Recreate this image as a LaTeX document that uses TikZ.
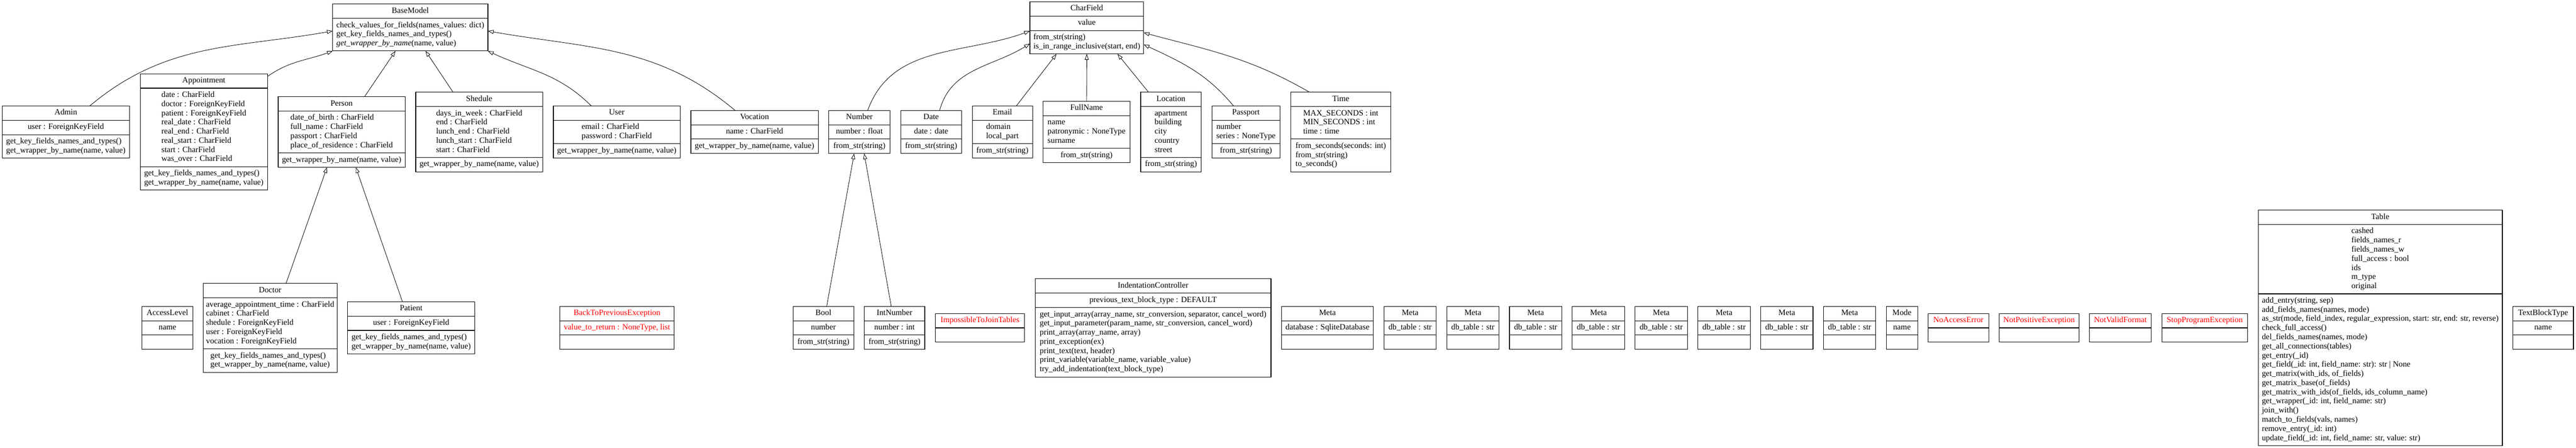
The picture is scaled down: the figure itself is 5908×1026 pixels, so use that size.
\documentclass[tikz,border=0pt]{standalone}
\usepackage{fontspec}
\setmainfont{Liberation Serif}
\usetikzlibrary{shapes.multipart,positioning,arrows.meta}
\newcommand\umlfont{\fontsize{18.67}{21}\selectfont}
\tikzset{
  cls/.style={rectangle split, rectangle split parts=3, draw, line width=1.3pt,
    align=left, inner xsep=4pt, inner ysep=5.3pt, outer sep=0pt, font=\umlfont},
  cls2/.style={cls, rectangle split parts=2},
  exc/.style={cls2, text=red},
  inh/.style={-{Triangle[open,length=13pt,width=9pt]}, line width=1pt}
}

\begin{document}
\begin{tikzpicture}[x=1pt, y=1pt, node distance=24pt]
  \useasboundingbox (0,0) rectangle (5908,-1026);

  % base classes
  \node[cls2, anchor=west, minimum width=356pt] (basemodel) at (763,-63) {\strut BaseModel\strut
    \nodepart{two}\strut check\_values\_for\_fields(names\_values: dict)\\
    get\_key\_fields\_names\_and\_types()\\
    \textit{get\_wrapper\_by\_name}(name, value)\strut};
  \node[cls, anchor=west, minimum width=261pt] (charfield) at (2362,-64) {\strut CharField\strut
    \nodepart{two}\strut value\strut
    \nodepart{three}\strut from\_str(string)\\
    is\_in\_range\_inclusive(start, end)\strut};

  % upper row
  \begin{scope}[node distance=24.5pt]
  \node[cls, anchor=west, minimum width=292pt] (admin) at (5,-302.5) {\strut Admin\strut
    \nodepart{two}\strut user : ForeignKeyField\strut
    \nodepart{three}\strut get\_key\_fields\_names\_and\_types()\\
    get\_wrapper\_by\_name(name, value)\strut};
  \node[cls, minimum width=292pt, right=of admin] (appointment) {\strut Appointment\strut
    \nodepart{two}\strut date : CharField\\
    doctor : ForeignKeyField\\
    patient : ForeignKeyField\\
    real\_date : CharField\\
    real\_end : CharField\\
    real\_start : CharField\\
    start : CharField\\
    was\_over : CharField\strut
    \nodepart{three}\strut get\_key\_fields\_names\_and\_types()\\
    get\_wrapper\_by\_name(name, value)\strut};
  \node[cls, minimum width=291pt, right=of appointment] (person) {\strut Person\strut
    \nodepart{two}\strut date\_of\_birth : CharField\\
    full\_name : CharField\\
    passport : CharField\\
    place\_of\_residence : CharField\strut
    \nodepart{three}\strut get\_wrapper\_by\_name(name, value)\strut};
  \node[cls, minimum width=291pt, right=of person] (shedule) {\strut Shedule\strut
    \nodepart{two}\strut days\_in\_week : CharField\\
    end : CharField\\
    lunch\_end : CharField\\
    lunch\_start : CharField\\
    start : CharField\strut
    \nodepart{three}\strut get\_wrapper\_by\_name(name, value)\strut};
  \node[cls, minimum width=291pt, right=of shedule] (user) {\strut User\strut
    \nodepart{two}\strut email : CharField\\
    password : CharField\strut
    \nodepart{three}\strut get\_wrapper\_by\_name(name, value)\strut};
  \node[cls, minimum width=292pt, right=of user] (vocation) {\strut Vocation\strut
    \nodepart{two}\strut name : CharField\strut
    \nodepart{three}\strut get\_wrapper\_by\_name(name, value)\strut};
  \node[cls, minimum width=140pt, right=of vocation] (number) {\strut Number\strut
    \nodepart{two}\strut number : float\strut
    \nodepart{three}\strut from\_str(string)\strut};
  \node[cls, minimum width=140pt, right=of number] (date) {\strut Date\strut
    \nodepart{two}\strut date : date\strut
    \nodepart{three}\strut from\_str(string)\strut};
  \node[cls, minimum width=138pt, right=of date] (email) {\strut Email\strut
    \nodepart{two}\strut domain\\
    local\_part\strut
    \nodepart{three}\strut from\_str(string)\strut};
  \node[cls, minimum width=199pt, right=of email] (fullname) {\strut FullName\strut
    \nodepart{two}\strut name\\
    patronymic : NoneType\\
    surname\strut
    \nodepart{three}\strut from\_str(string)\strut};
  \node[cls, minimum width=139pt, right=of fullname] (location) {\strut Location\strut
    \nodepart{two}\strut apartment\\
    building\\
    city\\
    country\\
    street\strut
    \nodepart{three}\strut from\_str(string)\strut};
  \node[cls, minimum width=156pt, right=of location] (passport) {\strut Passport\strut
    \nodepart{two}\strut number\\
    series : NoneType\strut
    \nodepart{three}\strut from\_str(string)\strut};
  \node[cls, minimum width=230pt, right=of passport] (time) {\strut Time\strut
    \nodepart{two}\strut MAX\_SECONDS : int\\
    MIN\_SECONDS : int\\
    time : time\strut
    \nodepart{three}\strut from\_seconds(seconds: int)\\
    from\_str(string)\\
    to\_seconds()\strut};
  \end{scope}

  % lower row
  \node[cls, anchor=west, minimum width=116pt] (accesslevel) at (326,-751.5) {\strut AccessLevel\strut
    \nodepart{two}\strut name\strut
    \nodepart{three}\strut};
  \node[cls, minimum width=307pt, right=of accesslevel] (doctor) {\strut Doctor\strut
    \nodepart{two}\strut average\_appointment\_time : CharField\\
    cabinet : CharField\\
    shedule : ForeignKeyField\\
    user : ForeignKeyField\\
    vocation : ForeignKeyField\strut
    \nodepart{three}\strut get\_key\_fields\_names\_and\_types()\\
    get\_wrapper\_by\_name(name, value)\strut};
  \node[cls, minimum width=292pt, right=of doctor] (patient) {\strut Patient\strut
    \nodepart{two}\strut user : ForeignKeyField\strut
    \nodepart{three}\strut get\_key\_fields\_names\_and\_types()\\
    get\_wrapper\_by\_name(name, value)\strut};
  \node[cls, text=red, anchor=west, minimum width=262pt] (backtoprevious) at (1284,-751.5) {\strut BackToPreviousException\strut
    \nodepart{two}\strut value\_to\_return : NoneType, list\strut
    \nodepart{three}\strut};
  \node[cls, anchor=west, minimum width=139pt] (bool) at (1819,-751.5) {\strut Bool\strut
    \nodepart{two}\strut number\strut
    \nodepart{three}\strut from\_str(string)\strut};
  \node[cls, minimum width=139pt, right=of bool] (intnumber) {\strut IntNumber\strut
    \nodepart{two}\strut number : int\strut
    \nodepart{three}\strut from\_str(string)\strut};
  \node[exc, minimum width=205pt, right=of intnumber] (impossible) {\strut ImpossibleToJoinTables\strut
    \nodepart{two}\strut};
  \node[cls, minimum width=541pt, right=of impossible] (indentation) {\strut IndentationController\strut
    \nodepart{two}\strut previous\_text\_block\_type : DEFAULT\strut
    \nodepart{three}\strut get\_input\_array(array\_name, str\_conversion, separator, cancel\_word)\\
    get\_input\_parameter(param\_name, str\_conversion, cancel\_word)\\
    print\_array(array\_name, array)\\
    print\_exception(ex)\\
    print\_text(text, header)\\
    print\_variable(variable\_name, variable\_value)\\
    try\_add\_indentation(text\_block\_type)\strut};
  \node[cls, minimum width=211pt, right=of indentation] (meta) {\strut Meta\strut
    \nodepart{two}\strut database : SqliteDatabase\strut
    \nodepart{three}\strut};
  \node[cls, minimum width=120pt, right=of meta] (metaA) {\strut Meta\strut
    \nodepart{two}\strut db\_table : str\strut
    \nodepart{three}\strut};
  \node[cls, minimum width=120pt, right=of metaA] (metaB) {\strut Meta\strut
    \nodepart{two}\strut db\_table : str\strut
    \nodepart{three}\strut};
  \node[cls, minimum width=120pt, right=of metaB] (metaC) {\strut Meta\strut
    \nodepart{two}\strut db\_table : str\strut
    \nodepart{three}\strut};
  \node[cls, minimum width=120pt, right=of metaC] (metaD) {\strut Meta\strut
    \nodepart{two}\strut db\_table : str\strut
    \nodepart{three}\strut};
  \node[cls, minimum width=120pt, right=of metaD] (metaE) {\strut Meta\strut
    \nodepart{two}\strut db\_table : str\strut
    \nodepart{three}\strut};
  \node[cls, minimum width=120pt, right=of metaE] (metaF) {\strut Meta\strut
    \nodepart{two}\strut db\_table : str\strut
    \nodepart{three}\strut};
  \node[cls, minimum width=120pt, right=of metaF] (metaG) {\strut Meta\strut
    \nodepart{two}\strut db\_table : str\strut
    \nodepart{three}\strut};
  \node[cls, minimum width=120pt, right=of metaG] (metaH) {\strut Meta\strut
    \nodepart{two}\strut db\_table : str\strut
    \nodepart{three}\strut};
  \node[cls, minimum width=72pt, right=of metaH] (mode) {\strut Mode\strut
    \nodepart{two}\strut name\strut
    \nodepart{three}\strut};
  \node[exc, minimum width=139pt, right=of mode] (noaccess) {\strut NoAccessError\strut
    \nodepart{two}\strut};
  \node[exc, minimum width=183pt, right=of noaccess] (notpositive) {\strut NotPositiveException\strut
    \nodepart{two}\strut};
  \node[exc, minimum width=142pt, right=of notpositive] (notvalid) {\strut NotValidFormat\strut
    \nodepart{two}\strut};
  \node[exc, minimum width=197pt, right=of notvalid] (stopprogram) {\strut StopProgramException\strut
    \nodepart{two}\strut};
  \node[cls, minimum width=560pt, right=of stopprogram] (table) {\strut Table\strut
    \nodepart{two}\strut cashed\\
    fields\_names\_r\\
    fields\_names\_w\\
    full\_access : bool\\
    ids\\
    m\_type\\
    original\strut
    \nodepart{three}\strut add\_entry(string, sep)\\
    add\_fields\_names(names, mode)\\
    as\_str(mode, field\_index, regular\_expression, start: str, end: str, reverse)\\
    check\_full\_access()\\
    del\_fields\_names(names, mode)\\
    get\_all\_connections(tables)\\
    get\_entry(\_id)\\
    get\_field(\_id: int, field\_name: str): str | None\\
    get\_matrix(with\_ids, of\_fields)\\
    get\_matrix\_base(of\_fields)\\
    get\_matrix\_with\_ids(of\_fields, ids\_column\_name)\\
    get\_wrapper(\_id: int, field\_name: str)\\
    join\_with()\\
    match\_to\_fields(vals, names)\\
    remove\_entry(\_id: int)\\
    update\_field(\_id: int, field\_name: str, value: str)\strut};
  \node[cls, minimum width=139pt, right=of table] (textblocktype) {\strut TextBlockType\strut
    \nodepart{two}\strut name\strut
    \nodepart{three}\strut};

  % inheritance to BaseModel
  \draw[inh] ([xshift=55pt]admin.north) to[out=40, in=190] ([yshift=-8pt]basemodel.west);
  \draw[inh] ([yshift=-6pt]appointment.north east) to[out=35, in=200] (basemodel.south west);
  \draw[inh] ([xshift=52.5pt]person.north) -- ([xshift=-34pt]basemodel.south);
  \draw[inh] ([xshift=-60pt]shedule.north) -- ([xshift=35pt]basemodel.south);
  \draw[inh] ([xshift=-58.5pt]user.north) to[out=135, in=-25] (basemodel.south east);
  \draw[inh] ([xshift=-44.5pt]vocation.north) to[out=140, in=-10] ([yshift=-8pt]basemodel.east);

  % inheritance to CharField
  \draw[inh] ([xshift=19pt]number.north) to[out=70, in=200] ([yshift=-7pt]charfield.west);
  \draw[inh] ([xshift=19.5pt]date.north) to[out=75, in=212] ([yshift=-36pt]charfield.west);
  \draw[inh] ([xshift=32pt]email.north) -- ([xshift=-69.5pt]charfield.south);
  \draw[inh] (fullname.north) -- (charfield.south);
  \draw[inh] ([xshift=-51.5pt]location.north) -- ([xshift=70.5pt]charfield.south);
  \draw[inh] ([xshift=-28.5pt]passport.north) to[out=130, in=-25] ([yshift=-38pt]charfield.east);
  \draw[inh] ([xshift=-72pt]time.north) to[out=150, in=-15] ([yshift=-11pt]charfield.east);

  % inheritance to Person and Number
  \draw[inh] ([xshift=36.5pt]doctor.north) -- ([xshift=-33.5pt]person.south);
  \draw[inh] ([xshift=-20pt]patient.north) -- ([xshift=32.5pt]person.south);
  \draw[inh] ([xshift=7.5pt]bool.north) -- ([xshift=-12pt]number.south);
  \draw[inh] ([xshift=-7.5pt]intnumber.north) -- ([xshift=11pt]number.south);
\end{tikzpicture}
\end{document}
